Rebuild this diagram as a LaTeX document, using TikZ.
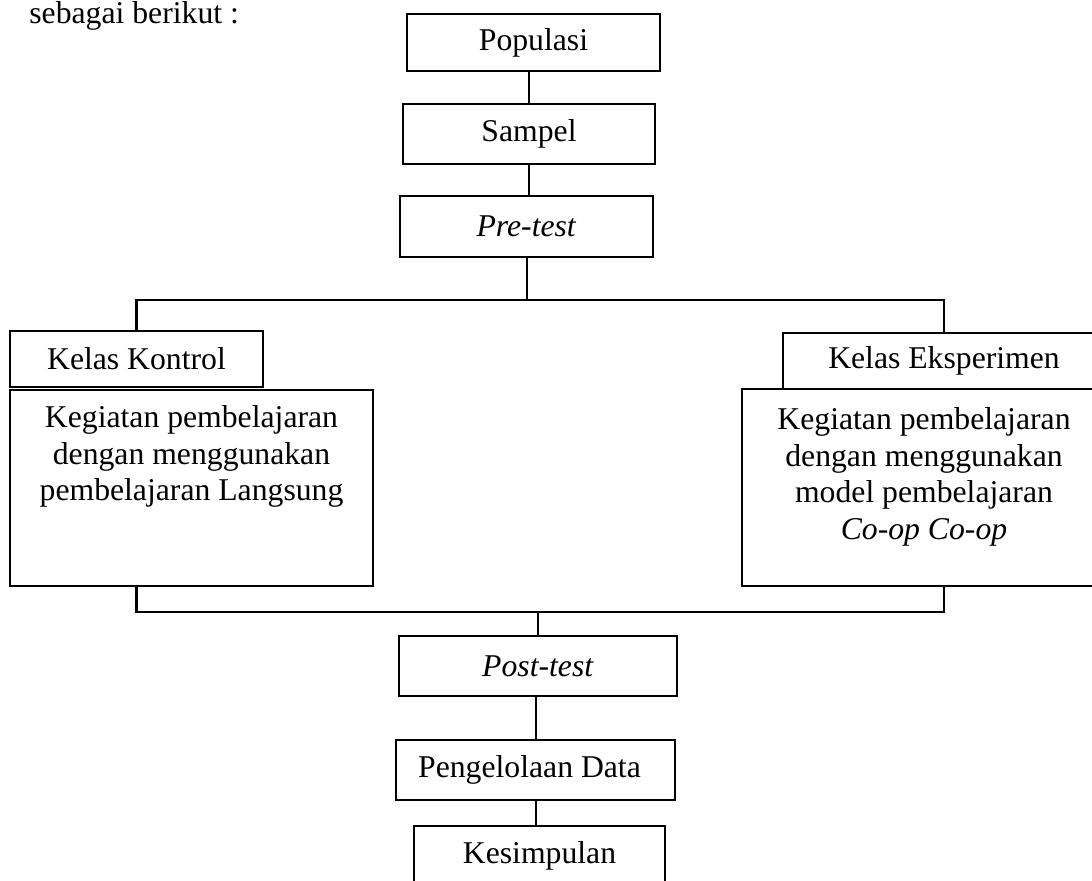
\documentclass[tikz,border=0pt]{standalone}
\usepackage{fontspec}
\setmainfont{Liberation Serif}
\usetikzlibrary{positioning}

\newcommand{\boxfont}{\fontsize{15.85}{18.3}\selectfont}

\tikzset{
    box/.style={draw, line width=1.1pt, inner sep=0pt, align=center, font=\boxfont},
    bodytext/.style={inner sep=0pt, align=center, font=\boxfont},
    stem/.style={line width=1pt},
    bracket/.style={line width=1.3pt},
}

\begin{document}
\begin{tikzpicture}[x=0.5pt,y=-0.5pt]
    \useasboundingbox (0,0) rectangle (1092,881);
    \clip (0,0) rectangle (1092,881);

    \node[anchor=base west, inner sep=0pt, font=\boxfont] (intro) at (29,24) {sebagai berikut :};

    \node[box, minimum width=126.5pt, minimum height=28.5pt] (pop) at (533.5,42.5) {Populasi};
    \node[box, minimum width=126pt, minimum height=30pt] (sam) at (529,134) {Sampel};
    \node[box, minimum width=126.5pt, minimum height=30.5pt] (pre) at (526.5,226.5) {\textit{Pre-test}};

    \node[box, minimum width=126.5pt, minimum height=28pt] (kk) at (136.5,359) {Kelas Kontrol};
    \node[box, minimum width=181.5pt, minimum height=98pt] (kkbody) at (191.5,488) {};
    \node[bodytext, below=8.2pt of kkbody.north] (kktext)
        {Kegiatan pembelajaran\\dengan menggunakan\\pembelajaran Langsung};

    \node[box, minimum width=161pt, minimum height=28pt] (ke) at (944,361) {Kelas Eksperimen};
    \node[box, minimum width=182pt, minimum height=98.5pt] (kebody) at (924,487.5) {};
    \node[bodytext, below=9.6pt of kebody.north] (ketext)
        {Kegiatan pembelajaran\\dengan menggunakan\\model pembelajaran\\\textit{Co-op Co-op}};

    \node[box, minimum width=139pt, minimum height=30pt] (post) at (538,666) {\textit{Post-test}};
    \node[box, minimum width=139.5pt, minimum height=30pt] (data) at (535.5,770) {Pengelolaan Data\hspace{6pt}};
    \node[box, minimum width=125.5pt, minimum height=30pt] (kes) at (539.5,856) {Kesimpulan};

    \coordinate (split) at (528,300);
    \coordinate (join) at (537,612);

    \draw[stem] (sam.north |- pop.south) -- (sam.north);
    \draw[stem] (sam.south) -- (sam.south |- pre.north);
    \draw[stem] (pre.south) -- (pre.south |- split);
    \draw[bracket] (kk.north) |- (split) -| (ke.north);

    \draw[bracket] (kkbody.south -| kk.north) |- (join) -| (kebody.south -| ke.north);
    \draw[stem] (post.north |- join) -- (post.north);
    \draw[stem] (data.north |- post.south) -- (data.north);
    \draw[stem] (data.south) -- (data.south |- kes.north);
\end{tikzpicture}
\end{document}
